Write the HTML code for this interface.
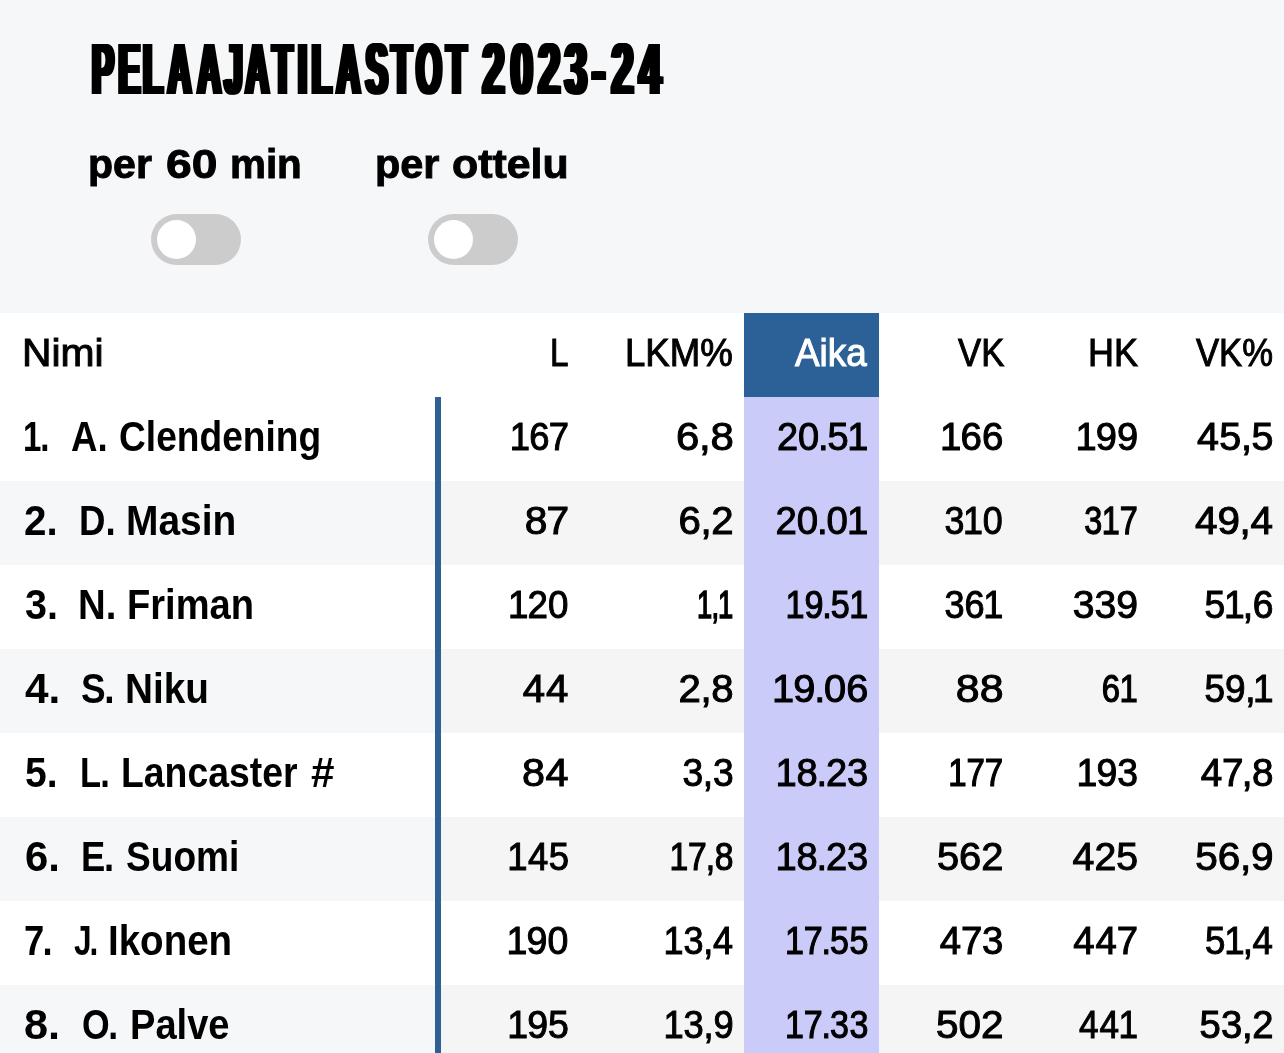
<!DOCTYPE html>
<html lang="fi">
<head>
<meta charset="utf-8">
<title>Pelaajatilastot 2023-24</title>
<style>
*{box-sizing:border-box;margin:0;padding:0}
html,body{width:1284px;height:1053px;overflow:hidden;background:#f6f7f9;}
#app{position:absolute;left:0;top:0;width:1284px;height:1053px;background:#f6f7f9;will-change:transform;overflow:hidden;}
body{position:relative;font-family:"Liberation Sans",sans-serif;color:#000;}
h1{position:absolute;left:0;top:0;width:700px;height:120px;font-size:72.0px;font-weight:bold;}
.ttl{position:absolute;left:0;top:0;}
.ttl text{font-family:"Liberation Sans",sans-serif;font-weight:bold;font-size:72.0px;fill:#000;}
.lbl{position:absolute;left:0;top:0;font-size:40.5px;font-weight:bold;white-space:pre;}
.lbl span{position:absolute;top:113.97px;height:100px;line-height:100px;transform-origin:0 50%;-webkit-text-stroke:0.9px #000;}
.tog{position:absolute;top:214px;width:90px;height:51px;border-radius:26px;background:#ccc;}
.tog i{position:absolute;left:5.8px;top:5.8px;width:39.4px;height:39.4px;border-radius:50%;background:#fff;}
.tbl{position:absolute;left:0;top:313px;width:1284px;height:740px;background:#fff;}
.row{position:absolute;left:0;width:1284px;height:84px;}
.row.alt{background:#f5f5f5;}
.row.alt::before{content:"";position:absolute;left:0;top:0;width:436px;height:84px;background:#f6f7f9;}
.s{position:absolute;top:-2.1px;height:84px;line-height:84px;font-size:38.8px;white-space:pre;transform-origin:0 50%;-webkit-text-stroke:1.0px currentColor;}
.s.b{font-size:42px;font-weight:bold;-webkit-text-stroke:0px #fff;top:-2px;}
.s.b.e{-webkit-text-stroke-color:#f6f7f9;}
.ak{color:#fff;}
.num{position:absolute;left:0;top:0;}
.num text{font-family:"Liberation Sans",sans-serif;font-size:38.8px;fill:#000;stroke:#000;stroke-width:1.0px;white-space:pre;}
.aika{position:absolute;left:744px;width:135px;top:0;height:740px;background:#cbcbfa;}
.aikah{position:absolute;left:744px;width:135px;top:0;height:84px;background:#2c6197;}
.vline{position:absolute;left:435px;width:6px;top:84px;height:656px;background:#2e6193;}
</style>
</head>
<body>
<div id="app">
<h1><svg class="ttl" width="700" height="120" viewBox="0 0 700 120"><text transform="translate(0 94.0) scale(0.4536 1)" style="text-shadow:-4.30px 0 #000,4.30px 0 #000,-2.15px 0 #000,2.15px 0 #000" x="203.0 261.2 315.3 369.9 435.5 494.9 541.4 601.0 657.2 687.4 742.1 806.6 863.4 917.9 984.5">PELAAJATILASTOT</text> <text transform="translate(0 94.0) scale(0.5508 1)" style="text-shadow:-3.73px 0 #000,3.73px 0 #000,-1.86px 0 #000,1.86px 0 #000" x="876.0 927.2 977.3 1025.6 1074.7 1110.1 1160.3">2023-24</text></svg></h1>
<div class="lbl"><span style="left:87.99px;transform:scaleX(1.014)">per</span> <span style="left:165.67px;transform:scaleX(1.141)">60</span> <span style="left:230.43px;transform:scaleX(0.997)">min</span> </div>
<div class="lbl"><span style="left:375.07px;transform:scaleX(1.023)">per</span> <span style="left:452.04px;transform:scaleX(1.059)">ottelu</span> </div>
<div class="tog" style="left:151px"><i></i></div>
<div class="tog" style="left:428px"><i></i></div>
<div class="tbl">
<div class="row alt" style="top:168px"></div>
<div class="row alt" style="top:336px"></div>
<div class="row alt" style="top:504px"></div>
<div class="row alt" style="top:672px"></div>
<div class="aika"></div>
<div class="aikah"></div>
<div class="vline"></div>
<div class="row" style="top:0px"><span class="s" style="left:22.2px;transform:scaleX(1.052)">Nimi</span><span class="s" style="left:550.3px;transform:scaleX(0.856)">L</span><span class="s" style="left:625.4px;transform:scaleX(0.943)">LKM%</span><span class="s ak" style="left:794.5px;transform:scaleX(0.951)">Aika</span><span class="s" style="left:957.6px;transform:scaleX(0.894)">VK</span><span class="s" style="left:1088.1px;transform:scaleX(0.927)">HK</span><span class="s" style="left:1196.4px;transform:scaleX(0.893)">VK%</span></div>
<div class="row" style="top:84px"><span class="s b" style="left:22.6px;transform:scaleX(0.787);letter-spacing:-1.47px">1.</span> <span class="s b" style="left:71.2px;transform:scaleX(0.872)">A.</span> <span class="s b" style="left:118.8px;transform:scaleX(0.884)">Clendening</span> </div>
<div class="row" style="top:168px"><span class="s b e" style="left:23.9px;transform:scaleX(0.961)">2.</span> <span class="s b e" style="left:79.0px;transform:scaleX(0.873)">D.</span> <span class="s b e" style="left:126.0px;transform:scaleX(0.927)">Masin</span> </div>
<div class="row" style="top:252px"><span class="s b" style="left:24.6px;transform:scaleX(0.941)">3.</span> <span class="s b" style="left:78.3px;transform:scaleX(0.913)">N.</span> <span class="s b" style="left:127.1px;transform:scaleX(0.907)">Friman</span> </div>
<div class="row" style="top:336px"><span class="s b e" style="left:24.7px;transform:scaleX(1.008)">4.</span> <span class="s b e" style="left:81.3px;transform:scaleX(0.880);letter-spacing:-1.53px">S.</span> <span class="s b e" style="left:125.2px;transform:scaleX(0.922)">Niku</span> </div>
<div class="row" style="top:420px"><span class="s b" style="left:25.2px;transform:scaleX(0.931)">5.</span> <span class="s b" style="left:79.7px;transform:scaleX(0.821);letter-spacing:-1.14px">L.</span> <span class="s b" style="left:121.1px;transform:scaleX(0.890)">Lancaster</span> <span class="s b" style="left:310.5px;transform:scaleX(1.004)">#</span> </div>
<div class="row" style="top:504px"><span class="s b e" style="left:24.5px;transform:scaleX(0.996)">6.</span> <span class="s b e" style="left:81.2px;transform:scaleX(0.866);letter-spacing:-1.53px">E.</span> <span class="s b e" style="left:126.1px;transform:scaleX(0.883)">Suomi</span> </div>
<div class="row" style="top:588px"><span class="s b" style="left:23.6px;transform:scaleX(0.866);letter-spacing:-2.13px">7.</span> <span class="s b" style="left:73.5px;transform:scaleX(0.753);letter-spacing:-2.78px">J.</span> <span class="s b" style="left:108.1px;transform:scaleX(0.917)">Ikonen</span> </div>
<div class="row" style="top:672px"><span class="s b e" style="left:24.4px;transform:scaleX(1.031)">8.</span> <span class="s b e" style="left:82.2px;transform:scaleX(0.847);letter-spacing:-1.59px">O.</span> <span class="s b e" style="left:129.9px;transform:scaleX(0.907)">Palve</span> </div>
<svg class="num" width="1284" height="740" viewBox="0 0 1284 740">
<text transform="translate(509.7 137.34) scale(0.939 1)" dx="0 -0.8 -0.8">167</text>
<text transform="translate(676.1 137.34) scale(1.082 1)" dx="0 -0.3 -0.3">6,8</text>
<text transform="translate(777.0 137.34) scale(0.979 1)" dx="0 0 -1.2 -1.2 -1.4">20.51</text>
<text transform="translate(940.0 137.34) scale(0.993 1)" dx="0 -0.8 0">166</text>
<text transform="translate(1075.4 137.34) scale(0.980 1)" dx="0 -0.8 0">199</text>
<text transform="translate(1196.9 137.34) scale(1.018 1)" dx="0 0.4 -0.3 -0.3">45,5</text>
<text transform="translate(524.7 221.34) scale(1.050 1)" dx="0 -0.8">87</text>
<text transform="translate(678.4 221.34) scale(1.036 1)" dx="0 -0.3 -0.3">6,2</text>
<text transform="translate(775.4 221.34) scale(0.990 1)" dx="0 0 -1.2 -1.2 -0.8">20.01</text>
<text transform="translate(944.4 221.34) scale(0.925 1)" dx="0 -1.4 -0.2">310</text>
<text transform="translate(1084.3 221.34) scale(0.834 1)" dx="0 -0.6 0" style="stroke-width:1.27px">317</text>
<text transform="translate(1194.9 221.34) scale(1.042 1)" dx="0 0 -0.3 -0.3">49,4</text>
<text transform="translate(507.9 305.34) scale(0.947 1)" dx="0 -0.8 0">120</text>
<text transform="translate(697.0 305.34) scale(0.703 1)" dx="0 -0.9 -1.6" style="stroke-width:1.61px">1,1</text>
<text transform="translate(785.5 305.34) scale(0.881 1)" dx="0 -0.1 -1.2 -1.2 -0.7" style="stroke-width:1.16px">19.51</text>
<text transform="translate(944.4 305.34) scale(0.931 1)" dx="0 0 -1.4">361</text>
<text transform="translate(1072.7 305.34) scale(1.010 1)">339</text>
<text transform="translate(1204.5 305.34) scale(0.961 1)" dx="0 -1.4 -2 -0.3">51,6</text>
<text transform="translate(522.7 389.34) scale(1.036 1)" dx="0 1">44</text>
<text transform="translate(678.4 389.34) scale(1.036 1)" dx="0 -0.3 -0.3">2,8</text>
<text transform="translate(772.0 389.34) scale(1.026 1)" dx="0 -0.8 -1.2 -1.2 0">19.06</text>
<text transform="translate(955.8 389.34) scale(1.107 1)">88</text>
<text transform="translate(1101.8 389.34) scale(0.847 1)" dx="0 -0.7" style="stroke-width:1.24px">61</text>
<text transform="translate(1204.5 389.34) scale(0.952 1)" dx="0 0 -0.3 -2.7">59,1</text>
<text transform="translate(522.0 473.34) scale(1.066 1)" dx="0 0.4">84</text>
<text transform="translate(682.4 473.34) scale(0.960 1)" dx="0 -0.3 -0.3">3,3</text>
<text transform="translate(775.4 473.34) scale(0.983 1)" dx="0 -0.2 -1.2 -1.2 0">18.23</text>
<text transform="translate(948.2 473.34) scale(0.852 1)" dx="0 -0.1 -0.1" style="stroke-width:1.22px">177</text>
<text transform="translate(1076.4 473.34) scale(0.963 1)" dx="0 -0.8 0">193</text>
<text transform="translate(1200.8 473.34) scale(0.997 1)" dx="0 -0.2 -2 -0.3">47,8</text>
<text transform="translate(507.3 557.34) scale(0.941 1)" dx="0 0.4 0.4">145</text>
<text transform="translate(669.4 557.34) scale(0.868 1)" dx="0 -0.1 -1.3 -0.3" style="stroke-width:1.19px">17,8</text>
<text transform="translate(775.4 557.34) scale(0.983 1)" dx="0 -0.2 -1.2 -1.2 0">18.23</text>
<text transform="translate(936.9 557.34) scale(1.029 1)">562</text>
<text transform="translate(1072.6 557.34) scale(1.012 1)">425</text>
<text transform="translate(1195.3 557.34) scale(1.046 1)" dx="0 0 -0.3 -0.3">56,9</text>
<text transform="translate(506.5 641.34) scale(0.968 1)" dx="0 -0.8 0">190</text>
<text transform="translate(663.6 641.34) scale(0.929 1)" dx="0 -0.2 -0.3 -0.3">13,4</text>
<text transform="translate(784.9 641.34) scale(0.878 1)" dx="0 -0.1 -1.3 -1.2 0.5" style="stroke-width:1.16px">17.55</text>
<text transform="translate(939.8 641.34) scale(0.989 1)" dx="0 -0.2 -0.2">473</text>
<text transform="translate(1073.3 641.34) scale(0.988 1)" dx="0 1 -0.2">447</text>
<text transform="translate(1205.1 641.34) scale(0.944 1)" dx="0 -1.4 -2 -0.3">51,4</text>
<text transform="translate(507.2 725.34) scale(0.966 1)" dx="0 -0.8 0">195</text>
<text transform="translate(663.6 725.34) scale(0.937 1)" dx="0 -0.2 -0.3 -0.3">13,9</text>
<text transform="translate(784.9 725.34) scale(0.878 1)" dx="0 -0.1 -1.3 -1.2 0.5" style="stroke-width:1.16px">17.33</text>
<text transform="translate(935.9 725.34) scale(1.045 1)">502</text>
<text transform="translate(1079.1 725.34) scale(0.906 1)" dx="0 1 -0.8">441</text>
<text transform="translate(1199.6 725.34) scale(0.987 1)" dx="0 0 -0.3 -0.3">53,2</text>
</svg>
</div>
</div>
</body>
</html>
